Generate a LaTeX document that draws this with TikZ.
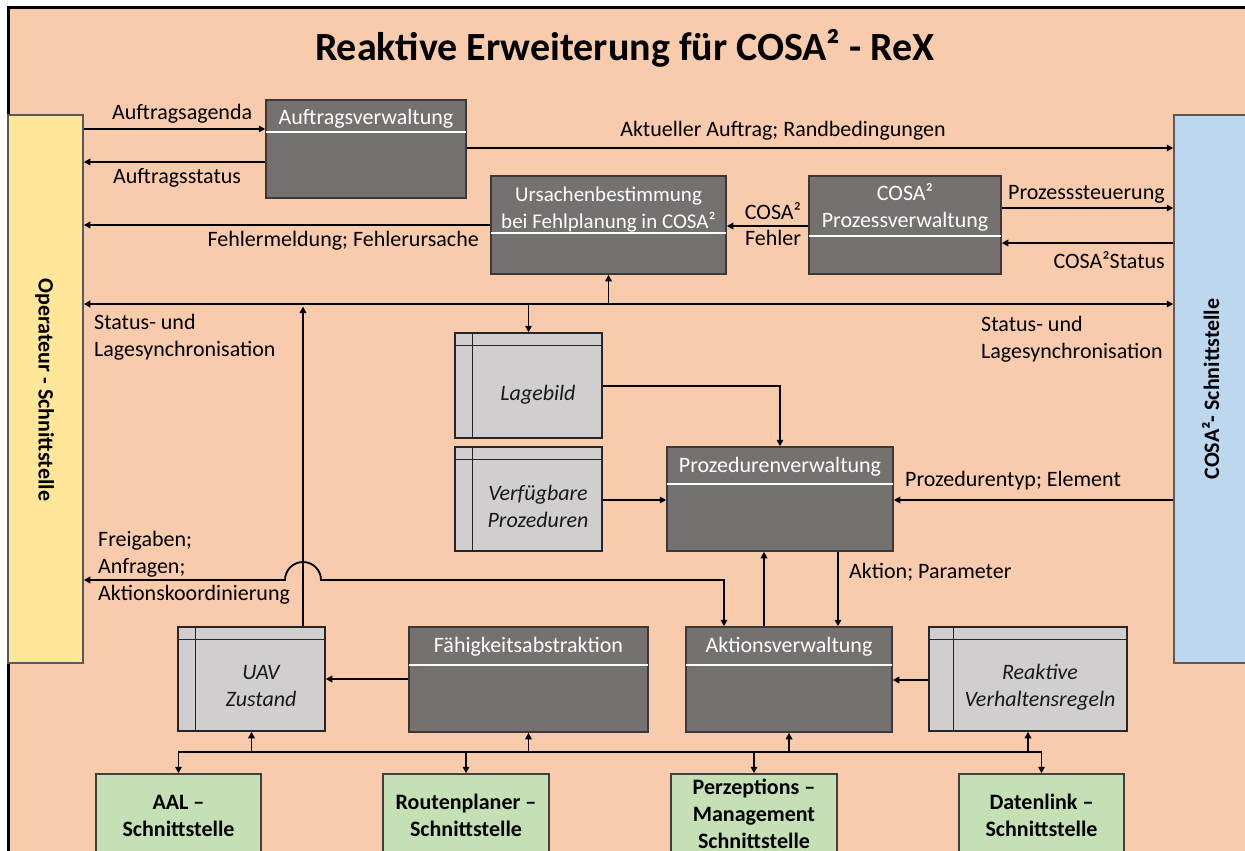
\documentclass[tikz,border=0pt]{standalone}
\usepackage{fontspec}
\setmainfont{Carlito}
\usetikzlibrary{arrows.meta}

\definecolor{peach}{HTML}{F8CBAD}
\definecolor{opyellow}{HTML}{FFE699}
\definecolor{cosablue}{HTML}{BDD7EE}
\definecolor{ifgreen}{HTML}{C5E0B4}
\definecolor{darkfill}{HTML}{767171}
\definecolor{lightfill}{HTML}{D0CECE}
\definecolor{edgedark}{HTML}{3A3838}

% strut giving every text line the same height and depth
\newcommand\lstrut{\rule[-3pt]{0pt}{20pt}}

\begin{document}
\begin{tikzpicture}[x=1pt,y=-1pt,
  wire/.style={line width=1.8pt, draw=black},
  arr/.style={wire, -{Triangle[length=6.5pt,width=6.5pt]}},
  arrboth/.style={wire, {Triangle[length=6.5pt,width=6.5pt]}-{Triangle[length=6.5pt,width=6.5pt]}},
  darkbox/.style={draw=edgedark, fill=darkfill, line width=1.5pt, inner sep=0pt},
  graybox/.style={draw=black!85, fill=lightfill, line width=1.5pt, inner sep=0pt},
  greenbox/.style={draw=black!75, fill=ifgreen, line width=1.5pt, inner sep=0pt},
  sidebox/.style={draw=black!65, line width=1.5pt, inner sep=0pt},
  divider/.style={draw=white, line width=1.5pt},
  innerline/.style={draw=black!85, line width=1.5pt},
  lbl/.style={inner sep=0pt, font=\fontsize{22}{27}\selectfont, text=black},
  boxtitle/.style={inner sep=0pt, align=center, font=\fontsize{22}{27}\selectfont, text=white},
  itxt/.style={inner sep=0pt, align=center, font=\fontsize{22}{27}\selectfont\itshape, text=black!90},
  greentxt/.style={inner sep=0pt, align=center, font=\fontsize{22}{27}\selectfont\bfseries, text=black},
  sidetxt/.style={inner sep=0pt, font=\fontsize{22}{27}\selectfont\bfseries, text=black}
]
\useasboundingbox (0,0) rectangle (1245,851);
\fill[white] (0,0) rectangle (1245,851);
\begin{scope}
\clip (0,0) rectangle (1245,851);

% frame
\draw[line width=3pt, fill=peach] (8,8) rectangle (1270,880);

% title
\node[inner sep=0pt, anchor=base, font=\fontsize{40}{48}\selectfont\bfseries] (title) at (625,61) {Reaktive Erweiterung für COSA² - ReX};

% interfaces at the sides
\node[sidebox, fill=opyellow, minimum width=75, minimum height=548] (op) at (45.5,389) {};
\node[sidetxt, rotate=-90] (op-t) at (45.5,390) {\lstrut Operateur - Schnittstelle};
\node[sidebox, fill=cosablue, minimum width=90, minimum height=548] (cosa) at (1219,389) {};
\node[sidetxt, rotate=90] (cosa-t) at (1212,389) {\lstrut COSA²- Schnittstelle};

% management blocks
\node[darkbox, minimum width=200, minimum height=98] (auf) at (366,149) {};
\draw[divider] (266,132) -- (466,132);
\node[boxtitle] (auf-t) at (366,118) {\lstrut Auftragsverwaltung};

\node[darkbox, minimum width=235, minimum height=98] (urs) at (608.5,225) {};
\draw[divider] (491,233) -- (726,233);
\node[boxtitle, font=\fontsize{21}{27}\selectfont] (urs-t) at (608.5,208.5) {\lstrut Ursachenbestimmung\\\lstrut bei Fehlplanung in COSA²};

\node[darkbox, minimum width=192, minimum height=98] (proz) at (905,225) {};
\draw[divider] (809,236) -- (1001,236);
\node[boxtitle] (proz-t) at (905,207.5) {\lstrut COSA²\\\lstrut Prozessverwaltung};

\node[darkbox, minimum width=226, minimum height=104] (pv) at (780,499) {};
\draw[divider] (667,484) -- (893,484);
\node[boxtitle] (pv-t) at (780,466) {\lstrut Prozedurenverwaltung};

\node[darkbox, minimum width=239, minimum height=105] (faeh) at (528.5,679.5) {};
\draw[divider] (409,665) -- (648,665);
\node[boxtitle] (faeh-t) at (528.5,646) {\lstrut Fähigkeitsabstraktion};

\node[darkbox, minimum width=206, minimum height=105] (akt) at (789,679.5) {};
\draw[divider] (686,665) -- (892,665);
\node[boxtitle] (akt-t) at (789,646) {\lstrut Aktionsverwaltung};

% data stores
\node[graybox, minimum width=147, minimum height=105] (lage) at (528.5,385.5) {};
\draw[innerline] ([xshift=18pt]lage.north west) -- ([xshift=18pt]lage.south west);
\draw[innerline] ([yshift=-13pt]lage.north west) -- ([yshift=-13pt]lage.north east);
\node[itxt] (lage-t) at (538,394) {\lstrut Lagebild};

\node[graybox, minimum width=147, minimum height=104] (verf) at (528.5,499) {};
\draw[innerline] ([xshift=18pt]verf.north west) -- ([xshift=18pt]verf.south west);
\draw[innerline] ([yshift=-13pt]verf.north west) -- ([yshift=-13pt]verf.north east);
\node[itxt] (verf-t) at (538,506.5) {\lstrut Verfügbare\\\lstrut Prozeduren};

\node[graybox, minimum width=147, minimum height=104] (uav) at (251.5,679) {};
\draw[innerline] ([xshift=18pt]uav.north west) -- ([xshift=18pt]uav.south west);
\draw[innerline] ([yshift=-13pt]uav.north west) -- ([yshift=-13pt]uav.north east);
\node[itxt] (uav-t) at (261,686) {\lstrut UAV\\\lstrut Zustand};

\node[graybox, minimum width=198, minimum height=104] (reak) at (1028,679) {};
\draw[innerline] ([xshift=25pt]reak.north west) -- ([xshift=25pt]reak.south west);
\draw[innerline] ([yshift=-13pt]reak.north west) -- ([yshift=-13pt]reak.north east);
\node[itxt] (reak-t) at (1040,686.5) {\lstrut Reaktive\\\lstrut Verhaltensregeln};

% external interfaces
\node[greenbox, minimum width=165, minimum height=110] (aal) at (178.5,829) {};
\node[greentxt] (aal-t) at (178.5,815.5) {\lstrut AAL –\\\lstrut Schnittstelle};
\node[greenbox, minimum width=166, minimum height=110] (rout) at (466,829) {};
\node[greentxt] (rout-t) at (466,815.5) {\lstrut Routenplaner –\\\lstrut Schnittstelle};
\node[greenbox, minimum width=166, minimum height=110] (perz) at (754,829) {};
\node[greentxt] (perz-t) at (754,814) {\lstrut Perzeptions –\\\lstrut Management\\\lstrut Schnittstelle};
\node[greenbox, minimum width=165, minimum height=110] (dat) at (1041.5,829) {};
\node[greentxt] (dat-t) at (1041.5,815.5) {\lstrut Datenlink –\\\lstrut Schnittstelle};

% order handling
\draw[arr] (op.east |- 0,129) -- (auf.west |- 0,129);
\node[lbl, anchor=west] (l-agenda) at (112,113) {\lstrut Auftragsagenda};
\draw[arr] (auf.west |- 0,162) -- (op.east |- 0,162);
\node[lbl, anchor=west] (l-status) at (113,177) {\lstrut Auftragsstatus};
\draw[arr] (auf.east |- 0,148) -- (cosa.west |- 0,148);
\node[lbl] (l-aktuell) at (783,130) {\lstrut Aktueller Auftrag; Randbedingungen};

% error handling
\draw[arr] (urs.west |- 0,225) -- (op.east |- 0,225);
\node[lbl, anchor=east] (l-fehler) at (479,240) {\lstrut Fehlermeldung; Fehlerursache};
\draw[arr] (proz.west |- 0,226) -- (urs.east |- 0,226);
\node[lbl] (l-cosa) at (773,212) {\lstrut COSA²};
\node[lbl] (l-cfehler) at (773,238) {\lstrut Fehler};

% COSA² process control
\draw[arr] (proz.east |- 0,208) -- (cosa.west |- 0,208);
\node[lbl, anchor=west] (l-steuer) at (1008,193) {\lstrut Prozesssteuerung};
\draw[arr] (cosa.west |- 0,243) -- (proz.east |- 0,243);
\node[lbl, anchor=east] (l-cstatus) at (1165,261) {\lstrut COSA²Status};

% status and situation synchronisation
\draw[arrboth] (op.east |- 0,304) -- (cosa.west |- 0,304);
\node[lbl, anchor=west, align=left] (l-sync1) at (94,336.5) {\lstrut Status- und\\\lstrut Lagesynchronisation};
\node[lbl, anchor=west, align=left] (l-sync2) at (981,338.5) {\lstrut Status- und\\\lstrut Lagesynchronisation};
\draw[arr] (urs.south |- 0,304) -- (urs.south);
\draw[arr] (lage.north |- 0,304) -- (lage.north);
\draw[arr] (uav.north -| 303,0) -- (303,306.5);

% procedures
\draw[arr] (lage.east |- 0,386) -| (pv.north);
\draw[arr] (verf.east |- 0,500) -- (pv.west |- 0,500);
\draw[arr] (cosa.west |- 0,500) -- (pv.east |- 0,500);
\node[lbl, anchor=west] (l-typ) at (905,480) {\lstrut Prozedurentyp; Element};
\draw[arr] (akt.north -| 764,0) -- (pv.south -| 764,0);
\draw[arr] (pv.south -| 838,0) -- (akt.north -| 838,0);
\node[lbl, anchor=west] (l-aktion) at (849,571) {\lstrut Aktion; Parameter};

% coordination with the operator, hopping over the UAV state line
\draw[arrboth] (op.east |- 0,580) -- (285,580)
  arc[start angle=180, end angle=0, radius=18pt] -- (724,580) -- (akt.north -| 724,0);
\node[lbl, anchor=west, align=left] (l-freigabe) at (98,566.5) {\lstrut Freigaben;\\\lstrut Anfragen;\\\lstrut Aktionskoordinierung};

% lower level
\draw[arr] (faeh.west |- 0,679) -- (uav.east |- 0,679);
\draw[arr] (reak.west |- 0,680) -- (akt.east |- 0,680);

% bus to the external interfaces
\draw[arrboth] (aal.north) -- (aal.north |- 0,752) -- (dat.north |- 0,752) -- (dat.north);
\draw[arr] (rout.north |- 0,752) -- (rout.north);
\draw[arr] (perz.north |- 0,752) -- (perz.north);
\draw[arr] (uav.south |- 0,752) -- (uav.south);
\draw[arr] (faeh.south |- 0,752) -- (faeh.south);
\draw[arr] (akt.south |- 0,752) -- (akt.south);
\draw[arr] (reak.south |- 0,752) -- (reak.south);

\end{scope}
\end{tikzpicture}
\end{document}
